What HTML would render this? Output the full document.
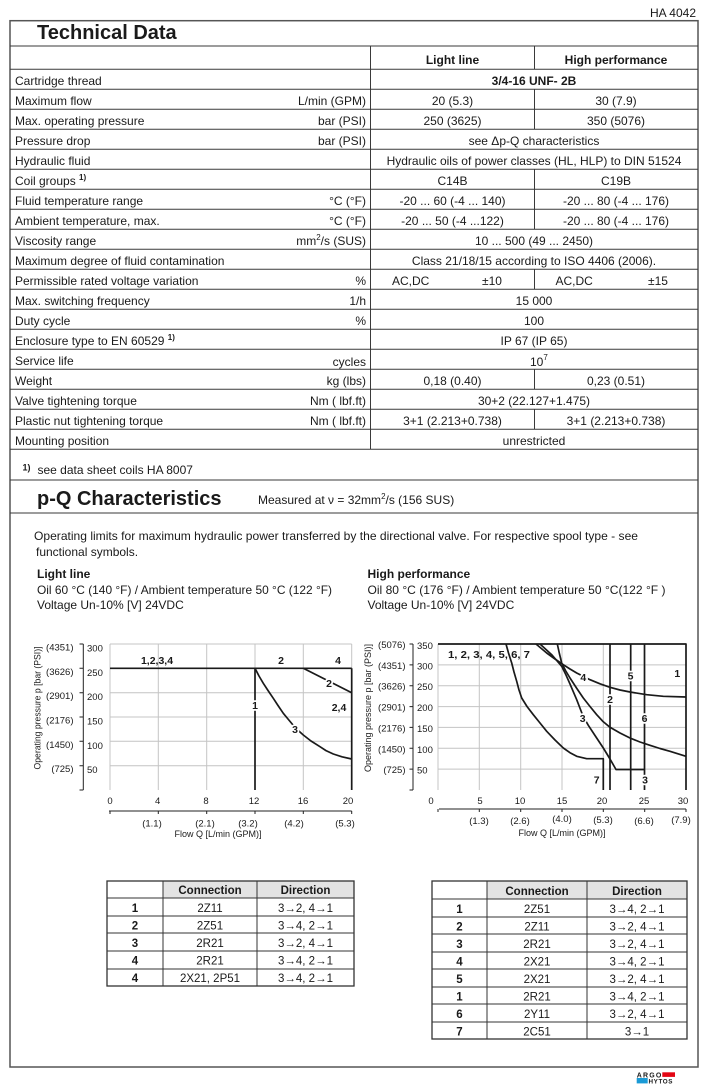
<!DOCTYPE html>
<html><head><meta charset="utf-8"><style>
html,body{margin:0;padding:0;background:#fff;}
svg{display:block;}
text{font-family:"Liberation Sans",Arial,sans-serif;fill:#1a1a1a;}
.t{font-size:12px;}
.b{font-weight:bold;}
.tk{font-size:9.5px;}
.lb{font-size:10.5px;font-weight:bold;}
.h{stroke:#fff;stroke-width:3.5px;paint-order:stroke;stroke-linejoin:round;}
.tb{font-size:11.5px;}
</style></head><body>
<svg width="707" height="1091" viewBox="0 0 707 1091" xmlns="http://www.w3.org/2000/svg">
<rect width="707" height="1091" fill="#fff"/>
<text class="t" x="696" y="17" text-anchor="end">HA 4042</text>

<!-- Frame -->
<rect x="10" y="20.7" width="688" height="1046.3" fill="none" stroke="#555" stroke-width="1.5"/>

<!-- Table lines -->
<g stroke="#3a3a3a" stroke-width="1" fill="none">
<path d="M10,46H698 M10,69.3H698 M10,89.3H698 M10,109.3H698 M10,129.3H698 M10,149.3H698 M10,169.3H698 M10,189.3H698 M10,209.3H698 M10,229.3H698 M10,249.3H698 M10,269.3H698 M10,289.3H698 M10,309.3H698 M10,329.3H698 M10,349.3H698 M10,369.3H698 M10,389.3H698 M10,409.3H698 M10,429.3H698 M10,449.3H698 M10,480H698 M10,513H698"/>
<path d="M370.5,46V449.3"/>
<path d="M534.5,46V69.3 M534.5,89.3V129.3 M534.5,169.3V229.3 M534.5,269.3V289.3 M534.5,369.3V389.3 M534.5,409.3V429.3"/>
</g>

<text x="37" y="39" font-size="20" class="b">Technical Data</text>
<text class="t b" x="452.5" y="64" text-anchor="middle">Light line</text>
<text class="t b" x="616" y="64" text-anchor="middle">High performance</text>

<g class="t">
<text x="15" y="85">Cartridge thread</text>
<text x="534" y="85" text-anchor="middle" font-weight="bold">3/4-16 UNF- 2B</text>

<text x="15" y="105">Maximum flow</text>
<text x="366" y="105" text-anchor="end">L/min (GPM)</text>
<text x="452.5" y="105" text-anchor="middle">20 (5.3)</text>
<text x="616" y="105" text-anchor="middle">30 (7.9)</text>

<text x="15" y="125">Max. operating pressure</text>
<text x="366" y="125" text-anchor="end">bar (PSI)</text>
<text x="452.5" y="125" text-anchor="middle">250 (3625)</text>
<text x="616" y="125" text-anchor="middle">350 (5076)</text>

<text x="15" y="145">Pressure drop</text>
<text x="366" y="145" text-anchor="end">bar (PSI)</text>
<text x="534" y="145" text-anchor="middle">see Δp-Q characteristics</text>

<text x="15" y="165">Hydraulic fluid</text>
<text x="534" y="165" text-anchor="middle">Hydraulic oils of power classes (HL, HLP) to DIN 51524</text>

<text x="15" y="185">Coil groups <tspan font-size="8" font-weight="bold" dy="-5">1)</tspan></text>
<text x="452.5" y="185" text-anchor="middle">C14B</text>
<text x="616" y="185" text-anchor="middle">C19B</text>

<text x="15" y="205">Fluid temperature range</text>
<text x="366" y="205" text-anchor="end">°C (°F)</text>
<text x="452.5" y="205" text-anchor="middle">-20 ... 60 (-4 ... 140)</text>
<text x="616" y="205" text-anchor="middle">-20 ... 80 (-4 ... 176)</text>

<text x="15" y="225">Ambient temperature, max.</text>
<text x="366" y="225" text-anchor="end">°C (°F)</text>
<text x="452.5" y="225" text-anchor="middle">-20 ... 50 (-4 ...122)</text>
<text x="616" y="225" text-anchor="middle">-20 ... 80 (-4 ... 176)</text>

<text x="15" y="245">Viscosity range</text>
<text x="366" y="245" text-anchor="end">mm<tspan font-size="8" dy="-5">2</tspan><tspan dy="5">/s (SUS)</tspan></text>
<text x="534" y="245" text-anchor="middle">10 ... 500 (49 ... 2450)</text>

<text x="15" y="265">Maximum degree of fluid contamination</text>
<text x="534" y="265" text-anchor="middle">Class 21/18/15 according to ISO 4406 (2006).</text>

<text x="15" y="285">Permissible rated voltage variation</text>
<text x="366" y="285" text-anchor="end">%</text>
<text x="392" y="285">AC,DC</text>
<text x="492" y="285" text-anchor="middle">±10</text>
<text x="555.5" y="285">AC,DC</text>
<text x="658" y="285" text-anchor="middle">±15</text>

<text x="15" y="305">Max. switching frequency</text>
<text x="366" y="305" text-anchor="end">1/h</text>
<text x="534" y="305" text-anchor="middle">15 000</text>

<text x="15" y="325">Duty cycle</text>
<text x="366" y="325" text-anchor="end">%</text>
<text x="534" y="325" text-anchor="middle">100</text>

<text x="15" y="345">Enclosure type to  EN 60529 <tspan font-size="8" font-weight="bold" dy="-5">1)</tspan></text>
<text x="534" y="345" text-anchor="middle">IP 67 (IP 65)</text>

<text x="15" y="365">Service life</text>
<text x="366" y="366" text-anchor="end">cycles</text>
<text x="530" y="366">10<tspan font-size="8" dy="-6">7</tspan></text>

<text x="15" y="385">Weight</text>
<text x="366" y="385" text-anchor="end">kg (lbs)</text>
<text x="452.5" y="385" text-anchor="middle">0,18 (0.40)</text>
<text x="616" y="385" text-anchor="middle">0,23 (0.51)</text>

<text x="15" y="405">Valve tightening torque</text>
<text x="366" y="405" text-anchor="end">Nm ( lbf.ft)</text>
<text x="534" y="405" text-anchor="middle">30+2 (22.127+1.475)</text>

<text x="15" y="425">Plastic nut tightening torque</text>
<text x="366" y="425" text-anchor="end">Nm ( lbf.ft)</text>
<text x="452.5" y="425" text-anchor="middle">3+1 (2.213+0.738)</text>
<text x="616" y="425" text-anchor="middle">3+1 (2.213+0.738)</text>

<text x="15" y="445">Mounting position</text>
<text x="534" y="445" text-anchor="middle">unrestricted</text>

<text x="22.5" y="470.5" font-size="9" font-weight="bold">1)</text>
<text x="37.5" y="474">see data sheet coils HA 8007</text>
</g>

<text x="37" y="505" font-size="20" class="b">p-Q Characteristics</text>
<text class="t" x="258" y="504">Measured at  ν =  32mm<tspan font-size="8" dy="-5">2</tspan><tspan dy="5">/s (156 SUS)</tspan></text>

<g class="t">
<text x="34" y="540" textLength="604" lengthAdjust="spacingAndGlyphs">Operating limits for maximum hydraulic power transferred by the directional valve. For respective spool type - see</text>
<text x="36" y="556">functional symbols.</text>
<text x="37" y="578" font-weight="bold">Light line</text>
<text x="37" y="594" textLength="295" lengthAdjust="spacingAndGlyphs">Oil 60 °C (140 °F) / Ambient temperature 50 °C (122 °F)</text>
<text x="37" y="609">Voltage Un-10% [V] 24VDC</text>
<text x="367.5" y="578" font-weight="bold">High performance</text>
<text x="367.5" y="594" textLength="298" lengthAdjust="spacingAndGlyphs">Oil 80 °C (176 °F) /  Ambient temperature 50 °C(122 °F )</text>
<text x="367.5" y="609">Voltage Un-10% [V] 24VDC</text>
</g>

<!-- LEFT CHART -->
<g stroke="#c4c4c4" stroke-width="1" fill="none">
<path d="M110,644V790 M158.3,644V790 M206.7,644V790 M255,644V790 M303.3,644V790 M351.7,644V790"/>
<path d="M110,644H351.7 M110,668.3H351.7 M110,692.7H351.7 M110,717H351.7 M110,741.3H351.7 M110,765.7H351.7"/>
</g>
<g stroke="#1a1a1a" stroke-width="1.7" fill="none" stroke-linejoin="round">
<path d="M110,668.3H351.7"/>
<path d="M255,668.3V790"/>
<path d="M351.7,668.3V790"/>
<polyline points="255,668.3 259,676 263.3,683.3 268,690.5 273.3,698.3 278,705.5 283.3,713.3 288,719 293,725 298,730.3 303.3,735 311,741 320,746.7 326,750.6 333.3,754 342,756.8 351.7,759"/>
<path d="M303.3,668.3L351.7,692.7"/>
</g>
<g stroke="#222" stroke-width="1" fill="none">
<path d="M83.3,644V790 M79.5,644H83.3 M79.5,668.3H83.3 M79.5,692.7H83.3 M79.5,717H83.3 M79.5,741.3H83.3 M79.5,765.7H83.3 M79.5,790H83.3"/>
<path d="M109,811H351.7 M110,811V814 M158.3,811V814 M206.7,811V814 M255,811V814 M303.3,811V814 M351.7,811V814"/>
</g>
<g class="lb" text-anchor="middle">
<text x="157" y="664">1,2,3,4</text>
<text x="281" y="664">2</text>
<text x="338" y="664">4</text>
<text class="h" x="329" y="687">2</text>
<text x="339" y="711">2,4</text>
<text class="h" x="255" y="709">1</text>
<text class="h" x="295" y="733">3</text>
</g>
<g class="tk">
<g text-anchor="end">
<text x="73.5" y="650.5">(4351)</text>
<text x="73.5" y="674.8">(3626)</text>
<text x="73.5" y="699.2">(2901)</text>
<text x="73.5" y="723.5">(2176)</text>
<text x="73.5" y="747.8">(1450)</text>
<text x="73.5" y="772.2">(725)</text>
</g>
<text x="87" y="651.5">300</text>
<text x="87" y="675.8">250</text>
<text x="87" y="700.2">200</text>
<text x="87" y="724.5">150</text>
<text x="87" y="748.8">100</text>
<text x="87" y="773.2">50</text>
<text transform="translate(40.5,708) rotate(-90)" text-anchor="middle" font-size="9" textLength="123" lengthAdjust="spacingAndGlyphs">Operating pressure p [bar (PSI)]</text>
<g text-anchor="middle">
<text x="110" y="804">0</text>
<text x="157.7" y="804">4</text>
<text x="206" y="804">8</text>
<text x="254" y="804">12</text>
<text x="303" y="804">16</text>
<text x="348" y="804">20</text>
<text x="152" y="826.5">(1.1)</text>
<text x="205" y="826.5">(2.1)</text>
<text x="248" y="826.5">(3.2)</text>
<text x="294" y="826.5">(4.2)</text>
<text x="345" y="826.5">(5.3)</text>
<text x="218" y="837" font-size="9">Flow Q [L/min (GPM)]</text>
</g>
</g>

<!-- RIGHT CHART -->
<g stroke="#c4c4c4" stroke-width="1" fill="none">
<path d="M438,644V790 M479.3,644V790 M520.7,644V790 M562,644V790 M603.3,644V790 M644.7,644V790"/>
<path d="M438,664.9H686 M438,685.7H686 M438,706.6H686 M438,727.4H686 M438,748.3H686 M438,769.1H686"/>
</g>
<g stroke="#1a1a1a" stroke-width="1.7" fill="none" stroke-linejoin="round">
<path d="M438,644H686V790"/>
<path d="M610,644V790 M630.7,644V790 M644.5,644V790"/>
<polyline points="506,644 508.5,653 511.7,663 514,672 516.7,681.3 519,690 521.7,698 527,706.5 533.3,714.7 540,723 546.7,731.3 555,740 563.3,748 570,752.7 576.7,756.3 586.7,758.7 603.3,758.7 603.3,790"/>
<polyline points="536,644 546.7,653 555,659 563.3,664.7 570,669 576.7,673 590,679.7 600,683.8 610,687.3 620,690 630,692 646.7,694.7 663.3,696.3 686,697"/>
<polyline points="540,644 552,655 561.7,666.3 566,675 570,684 576.7,699.7 583,716 588.3,725.3 596,737 603.3,748 610,759 616,769.5 644.3,769.5"/>
<polyline points="557.3,644 559.5,654 561.7,663 565.5,670.5 570,678 576.5,688 583.3,698 590,706.5 596.7,714.7 603,721.5 610,727.3 620,733 630,738 640,742 650,745.3 660,748.5 670,751.3 686,756.3"/>
</g>
<g stroke="#222" stroke-width="1" fill="none">
<path d="M413,644V790 M409.5,644H413 M409.5,664.9H413 M409.5,685.7H413 M409.5,706.6H413 M409.5,727.4H413 M409.5,748.3H413 M409.5,769.1H413 M409.5,790H413"/>
<path d="M439,809H686 M438,809V812 M479.3,809V812 M520.7,809V812 M562,809V812 M603.3,809V812 M644.7,809V812 M686,809V812"/>
</g>
<g class="lb" text-anchor="middle">
<text x="448" y="658" text-anchor="start" textLength="82" lengthAdjust="spacingAndGlyphs">1, 2, 3, 4, 5, 6, 7</text>
<text class="h" x="583.3" y="681">4</text>
<text class="h" x="630.5" y="679.5">5</text>
<text x="677.3" y="677">1</text>
<text class="h" x="610" y="703">2</text>
<text class="h" x="582.7" y="722">3</text>
<text class="h" x="644.5" y="722">6</text>
<text x="596.7" y="783.5">7</text>
<text class="h" x="645" y="783.5">3</text>
</g>
<g class="tk">
<g text-anchor="end">
<text x="405.5" y="648">(5076)</text>
<text x="405.5" y="668.9">(4351)</text>
<text x="405.5" y="689.7">(3626)</text>
<text x="405.5" y="710.6">(2901)</text>
<text x="405.5" y="731.4">(2176)</text>
<text x="405.5" y="752.3">(1450)</text>
<text x="405.5" y="773.1">(725)</text>
</g>
<text x="417" y="649">350</text>
<text x="417" y="669.4">300</text>
<text x="417" y="690.2">250</text>
<text x="417" y="711.1">200</text>
<text x="417" y="731.9">150</text>
<text x="417" y="752.8">100</text>
<text x="417" y="773.6">50</text>
<text transform="translate(371,708) rotate(-90)" text-anchor="middle" font-size="9" textLength="128" lengthAdjust="spacingAndGlyphs">Operating pressure p [bar (PSI)]</text>
<g text-anchor="middle">
<text x="431" y="804">0</text>
<text x="480" y="804">5</text>
<text x="520" y="804">10</text>
<text x="562" y="804">15</text>
<text x="602" y="804">20</text>
<text x="644" y="804">25</text>
<text x="683" y="804">30</text>
<text x="479" y="824">(1.3)</text>
<text x="520" y="824">(2.6)</text>
<text x="562" y="822">(4.0)</text>
<text x="603" y="823">(5.3)</text>
<text x="644" y="824">(6.6)</text>
<text x="681" y="823">(7.9)</text>
<text x="562" y="836" font-size="9">Flow Q [L/min (GPM)]</text>
</g>
</g>

<!-- LEFT TABLE -->
<rect x="163" y="881" width="191" height="17" fill="#e3e3e3"/>
<g stroke="#333" stroke-width="1" fill="none">
<rect x="107" y="881" width="247" height="105" stroke-width="1.3"/>
<path d="M163,881V986 M257,881V986 M107,898H354 M107,916H354 M107,933H354 M107,951H354 M107,969H354"/>
</g>
<g class="tb" text-anchor="middle">
<text x="210" y="894" font-weight="bold">Connection</text>
<text x="305.5" y="894" font-weight="bold">Direction</text>
<text x="135" y="912" font-weight="bold">1</text><text x="210" y="912">2Z11</text><text x="305.5" y="912">3→2, 4→1</text>
<text x="135" y="929.5" font-weight="bold">2</text><text x="210" y="929.5">2Z51</text><text x="305.5" y="929.5">3→4, 2→1</text>
<text x="135" y="947" font-weight="bold">3</text><text x="210" y="947">2R21</text><text x="305.5" y="947">3→2, 4→1</text>
<text x="135" y="964.5" font-weight="bold">4</text><text x="210" y="964.5">2R21</text><text x="305.5" y="964.5">3→4, 2→1</text>
<text x="135" y="982" font-weight="bold">4</text><text x="210" y="982">2X21, 2P51</text><text x="305.5" y="982">3→4, 2→1</text>
</g>

<!-- RIGHT TABLE -->
<rect x="487" y="881" width="200" height="18" fill="#e3e3e3"/>
<g stroke="#333" stroke-width="1" fill="none">
<rect x="432" y="881" width="255" height="158" stroke-width="1.3"/>
<path d="M487,881V1039 M587,881V1039 M432,899H687 M432,917H687 M432,934H687 M432,952H687 M432,969H687 M432,987H687 M432,1004H687 M432,1022H687"/>
</g>
<g class="tb" text-anchor="middle">
<text x="537" y="895" font-weight="bold">Connection</text>
<text x="637" y="895" font-weight="bold">Direction</text>
<text x="459.5" y="913" font-weight="bold">1</text><text x="537" y="913">2Z51</text><text x="637" y="913">3→4, 2→1</text>
<text x="459.5" y="930.5" font-weight="bold">2</text><text x="537" y="930.5">2Z11</text><text x="637" y="930.5">3→2, 4→1</text>
<text x="459.5" y="948" font-weight="bold">3</text><text x="537" y="948">2R21</text><text x="637" y="948">3→2, 4→1</text>
<text x="459.5" y="965.5" font-weight="bold">4</text><text x="537" y="965.5">2X21</text><text x="637" y="965.5">3→4, 2→1</text>
<text x="459.5" y="983" font-weight="bold">5</text><text x="537" y="983">2X21</text><text x="637" y="983">3→2, 4→1</text>
<text x="459.5" y="1000.5" font-weight="bold">1</text><text x="537" y="1000.5">2R21</text><text x="637" y="1000.5">3→4, 2→1</text>
<text x="459.5" y="1018" font-weight="bold">6</text><text x="537" y="1018">2Y11</text><text x="637" y="1018">3→2, 4→1</text>
<text x="459.5" y="1035.5" font-weight="bold">7</text><text x="537" y="1035.5">2C51</text><text x="637" y="1035.5">3→1</text>
</g>

<!-- LOGO -->
<rect x="662.3" y="1072.3" width="12.7" height="4.6" fill="#e30613"/>
<rect x="636.7" y="1078" width="11" height="5.4" fill="#1a9ad6"/>
<text x="636.7" y="1077.4" font-size="7" font-weight="bold" letter-spacing="1.2">ARGO</text>
<text x="648.5" y="1083.4" font-size="6.3" font-weight="bold" letter-spacing="0.6">HYTOS</text>
</svg>
</body></html>
